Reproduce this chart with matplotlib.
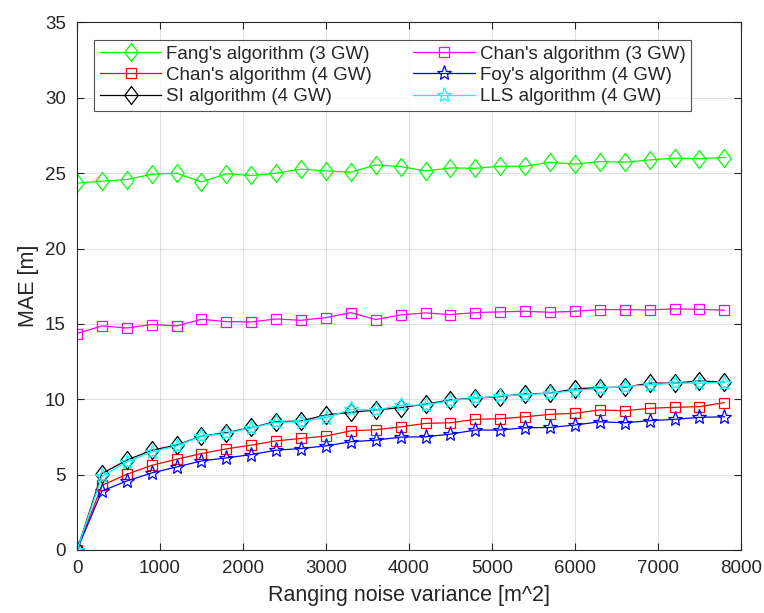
import numpy as np
import matplotlib.pyplot as plt
from matplotlib.path import Path

plt.rcParams['font.family'] = ['Liberation Sans', 'DejaVu Sans']

# ranging noise variance [m^2]
noise_var = list(range(0, 7801, 300))

fang_3gw = [24.34, 24.47, 24.58, 24.93, 25.0, 24.42, 24.96, 24.85, 25.0, 25.27,
            25.15, 25.07, 25.55, 25.44, 25.15, 25.35, 25.33, 25.46, 25.46, 25.73,
            25.6, 25.77, 25.73, 25.88, 26.0, 25.97, 26.04]
chan_3gw = [14.36, 14.87, 14.73, 14.96, 14.87, 15.31, 15.15, 15.13, 15.33, 15.24,
            15.42, 15.75, 15.29, 15.6, 15.73, 15.62, 15.75, 15.8, 15.84, 15.77,
            15.84, 15.95, 15.95, 15.93, 16.0, 15.97, 15.91]
chan_4gw = [0, 4.29, 5.02, 5.62, 6.02, 6.4, 6.71, 6.96, 7.24, 7.4,
            7.56, 7.91, 7.98, 8.17, 8.4, 8.44, 8.67, 8.71, 8.84, 9.0,
            9.07, 9.29, 9.24, 9.4, 9.47, 9.51, 9.78]
foy_4gw = [0, 3.91, 4.58, 5.11, 5.51, 5.91, 6.11, 6.33, 6.62, 6.73,
           6.91, 7.18, 7.29, 7.49, 7.51, 7.69, 7.96, 7.96, 8.11, 8.13,
           8.29, 8.51, 8.44, 8.58, 8.67, 8.8, 8.84]
si_4gw = [0, 5.07, 5.96, 6.62, 6.96, 7.56, 7.78, 8.13, 8.51, 8.56,
          8.96, 9.13, 9.29, 9.45, 9.67, 9.96, 10.07, 10.18, 10.36, 10.4,
          10.69, 10.78, 10.8, 11.07, 11.07, 11.22, 11.13]
lls_4gw = [0, 4.89, 5.84, 6.51, 6.91, 7.56, 7.73, 8.11, 8.47, 8.51,
           8.78, 9.33, 9.29, 9.6, 9.62, 9.91, 10.07, 10.22, 10.31, 10.4,
           10.58, 10.73, 10.84, 10.96, 11.07, 11.07, 11.11]

labels = ["Fang's algorithm (3 GW)", "Chan's algorithm (3 GW)",
          "Chan's algorithm (4 GW)", "Foy's algorithm (4 GW)",
          "SI algorithm (4 GW)", "LLS algorithm (4 GW)"]

# matlab style diamond (a bit taller than wide)
diamond = Path([(0, 1), (0.75, 0), (0, -1), (-0.75, 0), (0, 1)],
               [Path.MOVETO, Path.LINETO, Path.LINETO, Path.LINETO, Path.CLOSEPOLY])

fig = plt.figure(figsize=(7.64, 6.13), dpi=100)
ax = fig.add_axes([0.1008, 0.1028, 0.869, 0.8605])

series = [fang_3gw, chan_3gw, chan_4gw, foy_4gw, si_4gw, lls_4gw]
colors = ['#00ff00', '#ff00ff', '#ff0000', '#0000ff', '#000000', '#00ffff']
markers = [diamond, 's', 's', '*', diamond, '*']
sizes = [13, 7.5, 7.5, 11, 13, 11]

lines = []
for y, c, m, s, lab in zip(series, colors, markers, sizes, labels):
    l, = ax.plot(noise_var, y, color=c, marker=m, markersize=s, markerfacecolor='none',
                 markeredgecolor=c, markeredgewidth=0.9, linewidth=0.9, label=lab)
    lines.append(l)

ax.set_xlim(0, 8000)
ax.set_ylim(0, 35)
ax.set_xticks(range(0, 8001, 1000))
ax.set_yticks(range(0, 36, 5))
ax.grid(True, color='#262626', alpha=0.15, linewidth=0.7)
ax.tick_params(direction='in', top=True, right=True, labelsize=13.5, colors='#262626', length=5)
ax.tick_params(axis='x', pad=7)
ax.tick_params(axis='y', pad=8)
for sp in ax.spines.values():
    sp.set_color('#262626')
    sp.set_linewidth(0.8)

ax.set_xlabel('Ranging noise variance [m^2]', fontsize=15.5, color='#262626', labelpad=6)
ax.set_ylabel('MAE [m]', fontsize=15.5, color='#262626', labelpad=4)

# legend is filled row by row in the reference
order = [0, 2, 4, 1, 3, 5]
leg = ax.legend(handles=[lines[i] for i in order], ncol=2, loc='upper left',
                bbox_to_anchor=(0.0255, 0.967), fontsize=13.5, frameon=True, fancybox=False,
                edgecolor='#262626', borderpad=0.3, labelspacing=0.22, handlelength=3.3,
                columnspacing=2.2, handletextpad=0.25, borderaxespad=0)
leg.get_frame().set_linewidth(0.8)
for t in leg.get_texts():
    t.set_color('#262626')

fig.savefig('out.png', dpi=100)
